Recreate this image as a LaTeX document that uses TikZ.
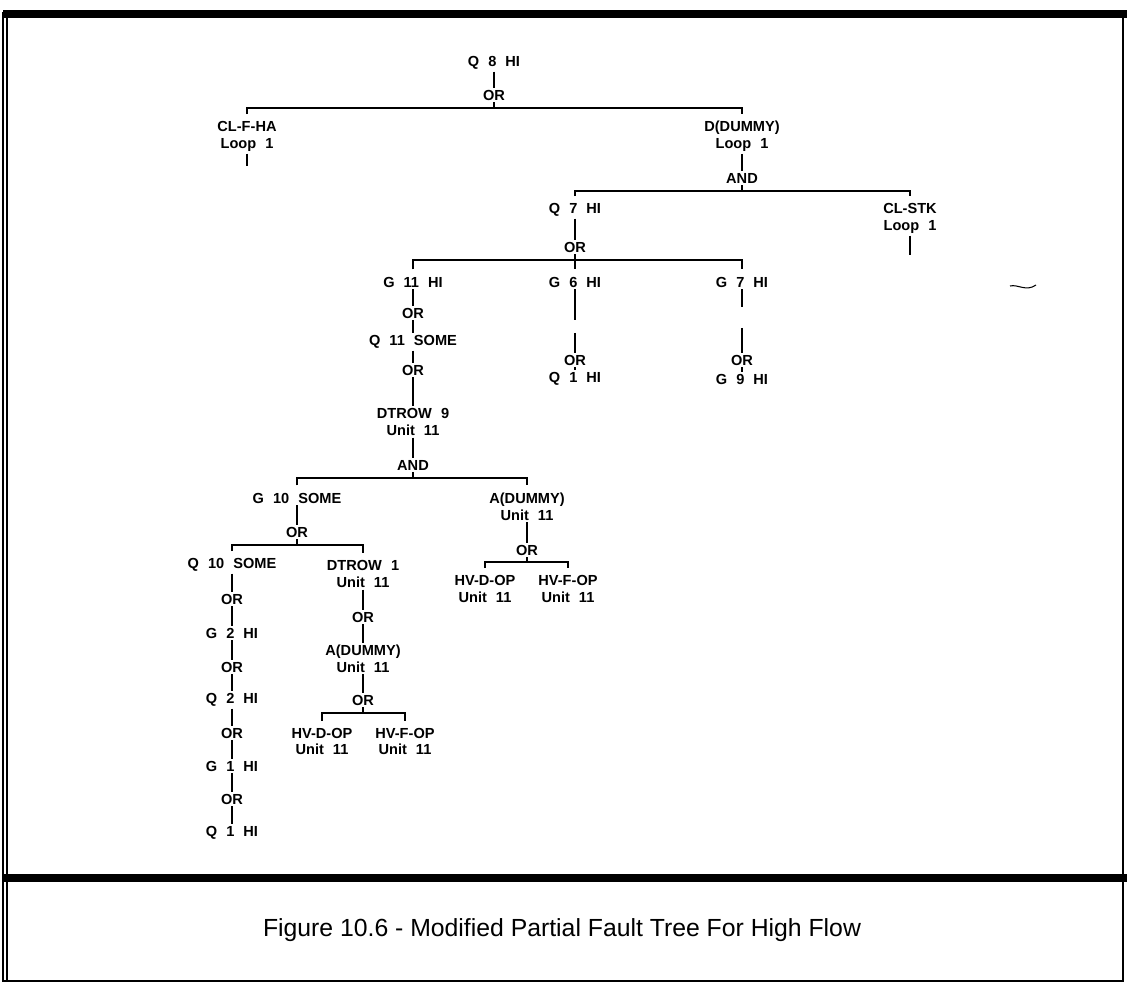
\documentclass[tikz,border=0pt]{standalone}
\usepackage{fontspec}
\newfontfamily\treefam{Liberation Sans}
\newfontfamily\capfam{Liberation Sans}
\newcommand\treefont{\treefam\bfseries\fontsize{8.3}{9.6}\selectfont\spaceskip=0.62em\relax}
\begin{document}
\begin{tikzpicture}[x=0.02cm,y=-0.02cm,
  tx/.style={font=\treefont, inner sep=1pt, align=center},
  edge/.style={line width=1.6pt},
  bar/.style={line width=1.6pt, line join=miter},
  kid/.style={shorten <=3pt},
  kidr/.style={shorten >=3pt},
  rule/.style={line width=4pt},
  thin/.style={line width=0.9pt}]
\useasboundingbox (0,0) rectangle (1130,983);

% outer frame and caption divider
\draw[rule] (3,14) -- (1127,14);
\draw[rule] (3,878) -- (1127,878);
\draw[thin] (3,12) -- (3,982);
\draw[thin] (7,16) -- (7,982);
\draw[line width=1.4pt] (1123,12) -- (1123,982);
\draw[thin] (3,981) -- (1124,981);

% top level
\node[tx] (q8) at (494,63) {Q 8 HI};
\node[tx] (or1) at (494,95) {OR};
\coordinate (b1) at (494,108);
\node[tx] (clf) at (247,136.5) {CL-F-HA\\Loop 1};
\coordinate (clfe) at (247,166);
\node[tx] (dd) at (742,136.5) {D(DUMMY)\\Loop 1};
\node[tx] (and1) at (742,178) {AND};
\coordinate (b2) at (742,191);
\node[tx] (q7) at (575,210) {Q 7 HI};
\node[tx] (cls) at (910,218.5) {CL-STK\\Loop 1};
\coordinate (clse) at (910,255);
\node[tx] (or2) at (575,247) {OR};
\coordinate (b3) at (575,260);
\node[tx] (g11) at (413,282) {G 11 HI};
\node[tx] (g6) at (575,282) {G 6 HI};
\node[tx] (g7) at (742,282) {G 7 HI};

\draw[edge] (q8) -- (or1);
\draw[edge] (or1) -- (b1);
\draw[bar,kid] (clf) |- (b1);
\draw[bar,kidr] (b1) -| (dd);
\draw[edge] (clf) -- (clfe);
\draw[edge] (dd) -- (and1);
\draw[edge] (and1) -- (b2);
\draw[bar,kid] (q7) |- (b2);
\draw[bar,kidr] (b2) -| (cls);
\draw[edge] (cls) -- (clse);
\draw[edge] (q7) -- (or2);
\draw[edge] (or2) -- (b3);
\draw[bar,kid] (g11) |- (b3);
\draw[bar,kidr] (b3) -| (g7);
\draw[bar,kidr] (b3) -- (g6);

% G 6 branch
\coordinate (g6a) at (575,320);
\coordinate (g6b) at (575,333);
\node[tx] (or13) at (575,360) {OR};
\node[tx] (q1a) at (575,379) {Q 1 HI};
\draw[edge] (g6) -- (g6a);
\draw[edge] (g6b) -- (or13);
\draw[edge] (or13) -- (q1a);

% G 7 branch
\coordinate (g7a) at (742,307);
\coordinate (g7b) at (742,328);
\node[tx] (or14) at (742,360) {OR};
\node[tx] (g9) at (742,379) {G 9 HI};
\draw[edge] (g7) -- (g7a);
\draw[edge] (g7b) -- (or14);
\draw[edge] (or14) -- (g9);

% G 11 branch
\node[tx] (or3) at (413,313) {OR};
\node[tx] (q11) at (413,342) {Q 11 SOME};
\node[tx] (or4) at (413,370) {OR};
\node[tx] (dt9) at (413,422) {DTROW 9\\Unit 11};
\node[tx] (and2) at (413,465) {AND};
\coordinate (b4) at (413,478);
\draw[edge] (g11) -- (or3);
\draw[edge] (or3) -- (q11);
\draw[edge] (q11) -- (or4);
\draw[edge] (or4) -- (dt9);
\draw[edge] (dt9) -- (and2);
\draw[edge] (and2) -- (b4);

\node[tx] (g10) at (297,498) {G 10 SOME};
\node[tx] (ad1) at (527,506.5) {A(DUMMY)\\Unit 11};
\draw[bar,kid] (g10) |- (b4);
\draw[bar,kidr] (b4) -| (ad1);

% A(DUMMY) under DTROW 9
\node[tx] (or6) at (527,550) {OR};
\coordinate (b6) at (527,562);
\node[tx] (hv1) at (485,589) {HV-D-OP\\Unit 11};
\node[tx] (hv2) at (568,589) {HV-F-OP\\Unit 11};
\draw[edge] (ad1) -- (or6);
\draw[edge] (or6) -- (b6);
\draw[bar,kid] (hv1) |- (b6);
\draw[bar,kidr] (b6) -| (hv2);

% G 10 SOME
\node[tx] (or5) at (297,532) {OR};
\coordinate (b5) at (297,545);
\node[tx] (q10) at (232,565) {Q 10 SOME};
\node[tx] (dt1) at (363,574) {DTROW 1\\Unit 11};
\draw[edge] (g10) -- (or5);
\draw[edge] (or5) -- (b5);
\draw[bar,kid] (q10) |- (b5);
\draw[bar,kidr] (b5) -| (dt1);

% Q 10 SOME chain
\node[tx] (or7) at (232,599) {OR};
\node[tx] (g2) at (232,633) {G 2 HI};
\node[tx] (or8) at (232,667) {OR};
\node[tx] (q2) at (232,700) {Q 2 HI};
\node[tx] (or9) at (232,733) {OR};
\node[tx] (g1) at (232,766) {G 1 HI};
\node[tx] (or10) at (232,799) {OR};
\node[tx] (q1b) at (232,833) {Q 1 HI};
\draw[edge] (q10) -- (or7);
\draw[edge] (or7) -- (g2);
\draw[edge] (g2) -- (or8);
\draw[edge] (or8) -- (q2);
\draw[edge] (q2) -- (or9);
\draw[edge] (or9) -- (g1);
\draw[edge] (g1) -- (or10);
\draw[edge] (or10) -- (q1b);

% DTROW 1 chain
\node[tx] (or11) at (363,617) {OR};
\node[tx] (ad2) at (363,658.5) {A(DUMMY)\\Unit 11};
\node[tx] (or12) at (363,700) {OR};
\coordinate (b7) at (363,713);
\node[tx] (hv3) at (322,741.5) {HV-D-OP\\Unit 11};
\node[tx] (hv4) at (405,741.5) {HV-F-OP\\Unit 11};
\draw[edge] (dt1) -- (or11);
\draw[edge] (or11) -- (ad2);
\draw[edge] (ad2) -- (or12);
\draw[edge] (or12) -- (b7);
\draw[bar,kid] (hv3) |- (b7);
\draw[bar,kidr] (b7) -| (hv4);

% small pen stroke at the right margin
\draw[line width=0.6pt] (1010,286) .. controls (1018,284) and (1026,292) .. (1036,285);

% caption
\node[font=\capfam\fontsize{14.1}{17}\selectfont, inner sep=0pt] (cap) at (562,930)
  {Figure 10.6 - Modified Partial Fault Tree For High Flow};
\end{tikzpicture}
\end{document}
